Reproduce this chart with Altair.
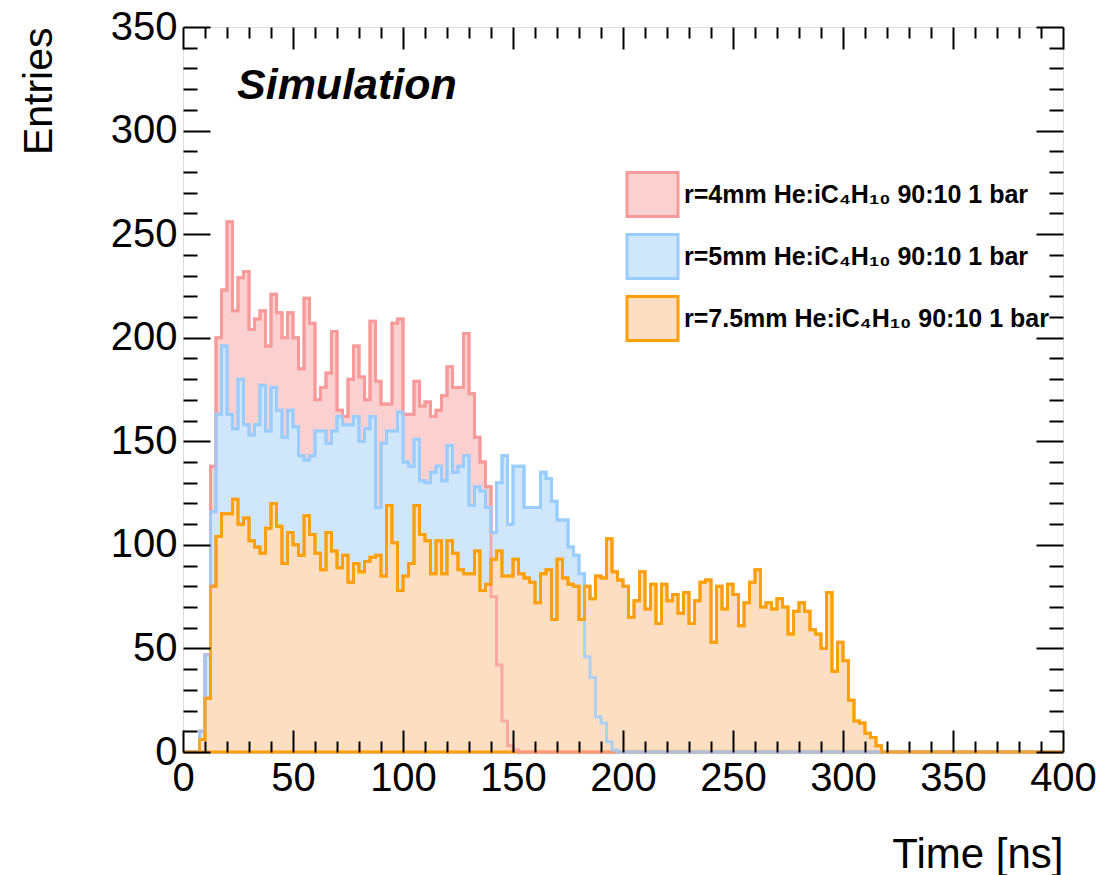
import altair as alt
import pandas as pd

# ---------------- data ----------------
series_labels = [
    "r=4mm He:iC\u2084H\u2081\u2080 90:10 1 bar",
    "r=5mm He:iC\u2084H\u2081\u2080 90:10 1 bar",
    "r=7.5mm He:iC\u2084H\u2081\u2080 90:10 1 bar",
]
bin_width_ns = 2.5
n_bins = 160
first_filled_bin_ns = 7.5

counts_r4 = [10, 47, 138, 200, 223, 256, 213, 229, 232, 204, 209, 213, 196, 221, 212, 200,
             212, 200, 185, 219, 207, 170, 176, 183, 203, 165, 162, 180, 196, 181, 170, 208,
             179, 168, 168, 207, 209, 163, 163, 179, 167, 169, 162, 165, 172, 186, 176, 176,
             202, 173, 152, 140, 128, 75, 42, 15, 3, 1]
counts_r5 = [10, 47, 116, 163, 196, 163, 156, 180, 158, 153, 158, 177, 155, 176, 165, 152,
             165, 157, 143, 141, 143, 155, 155, 149, 155, 162, 158, 158, 162, 150, 156, 162,
             118, 149, 155, 155, 164, 140, 138, 151, 131, 130, 135, 138, 131, 148, 135, 138,
             143, 119, 128, 126, 118, 106, 130, 143, 110, 138, 138, 118, 118, 118, 135, 132,
             121, 112, 112, 99, 95, 86, 46, 36, 17, 14, 5, 1]
counts_r75 = [6, 26, 80, 104, 115, 115, 122, 110, 113, 102, 99, 96, 108, 120, 109, 91,
              106, 100, 95, 114, 105, 96, 88, 106, 97, 89, 95, 82, 91, 87, 92, 94,
              95, 85, 119, 101, 78, 85, 91, 119, 105, 102, 86, 102, 86, 102, 96, 88,
              86, 86, 97, 78, 81, 93, 97, 85, 85, 93, 86, 84, 82, 72, 86, 88,
              64, 93, 84, 81, 80, 64, 80, 74, 85, 84, 103, 87, 83, 80, 65, 73,
              87, 69, 81, 62, 81, 73, 76, 67, 77, 62, 73, 82, 83, 53, 80, 69,
              81, 76, 61, 72, 82, 88, 70, 72, 69, 74, 70, 57, 68, 72, 68, 59,
              57, 50, 77, 39, 53, 44, 25, 15, 14, 9, 7, 3]

fill_colors = ["#FBD0D0", "#D0E6FB", "#FCDEC2"]
line_colors = ["#F99A9A", "#99CCFF", "#FF9F0A"]

y_major = [0, 50, 100, 150, 200, 250, 300, 350]
y_minor = [v for v in range(0, 351, 10) if v % 50 != 0]
x_major = [0, 50, 100, 150, 200, 250, 300, 350, 400]
x_minor = [v for v in range(0, 401, 10) if v % 50 != 0]

# ---------------- table ----------------
rows = []
k0 = int(first_filled_bin_ns / bin_width_ns)
for label, counts in zip(series_labels, [counts_r4, counts_r5, counts_r75]):
    full = [0] * n_bins
    for i, c in enumerate(counts):
        full[k0 + i] = c
    for i in range(n_bins):
        rows.append({"series": label, "t": i * bin_width_ns, "n": full[i]})
    rows.append({"series": label, "t": n_bins * bin_width_ns, "n": 0})
df = pd.DataFrame(rows)
frame_df = pd.DataFrame({"t": [0, 400], "n": [0, 350]})

W, H = 880, 725
FONT = "Liberation Sans"
xs = alt.Scale(domain=[0, 400], nice=False, zero=False)
ys = alt.Scale(domain=[0, 350], nice=False, zero=False)
fill_scale = alt.Scale(domain=series_labels, range=fill_colors)
stroke_scale = alt.Scale(domain=series_labels, range=line_colors)

legend = alt.Legend(
    title="", orient="none", legendX=446, legendY=144,
    symbolType="M -1.16 -1 L 1.16 -1 L 1.16 1 L -1.16 1 Z", symbolSize=1936,
    symbolStrokeWidth=3, labelFont=FONT, labelFontSize=25, labelFontWeight="bold",
    labelColor="black", rowPadding=5, labelOffset=8, labelLimit=700,
)


def area_layer(label):
    return alt.Chart(df).transform_filter(alt.datum.series == label).mark_area(
        interpolate="step-after", strokeWidth=3, strokeJoin="miter"
    ).encode(
        x=alt.X("t:Q", scale=xs, axis=None),
        y=alt.Y("n:Q", scale=ys, axis=None),
        fill=alt.Fill("series:N", scale=fill_scale, legend=legend),
        stroke=alt.Stroke("series:N", scale=stroke_scale, legend=legend),
    )


def line_layer(label):
    return alt.Chart(df).transform_filter(alt.datum.series == label).mark_line(
        interpolate="step-after", strokeWidth=3, strokeJoin="miter", opacity=0.8
    ).encode(
        x=alt.X("t:Q", scale=xs, axis=None),
        y=alt.Y("n:Q", scale=ys, axis=None),
        stroke=alt.Stroke("series:N", scale=stroke_scale, legend=legend),
    )


def axis_layer(xaxis, yaxis):
    return alt.Chart(frame_df).mark_point(opacity=0).encode(
        x=alt.X("t:Q", scale=xs, axis=xaxis),
        y=alt.Y("n:Q", scale=ys, axis=yaxis),
    )


tick_common = dict(labels=False, domain=False, grid=False, title="", tickColor="black",
                   tickWidth=2, zindex=2)

labels_layer = axis_layer(
    alt.Axis(values=x_major, ticks=False, domain=False, grid=False, labelFont=FONT,
             labelFontSize=40, labelColor="black", labelPadding=6, labelFlush=False,
             title="Time [ns]", titleFont=FONT, titleFontSize=42, titleFontWeight="normal",
             titleColor="black", titleAnchor="end", titlePadding=36),
    alt.Axis(values=y_major, ticks=False, domain=False, grid=False, labelFont=FONT,
             labelFontSize=40, labelColor="black", labelPadding=6, labelFlush=False,
             title="Entries", titleFont=FONT, titleFontSize=41, titleFontWeight="normal",
             titleColor="black", titleAnchor="end", titleAngle=270, titlePadding=50),
)
ticks_a = axis_layer(
    alt.Axis(orient="top", offset=-H, values=x_major, tickSize=22, **tick_common),
    alt.Axis(orient="right", offset=-W, values=y_major, tickSize=27, **tick_common),
)
ticks_b = axis_layer(
    alt.Axis(orient="top", offset=-H, values=x_minor, tickSize=11, **tick_common),
    alt.Axis(orient="right", offset=-W, values=y_minor, tickSize=14, **tick_common),
)
ticks_c = axis_layer(
    alt.Axis(orient="bottom", offset=-H, values=x_major, tickSize=22, **tick_common),
    alt.Axis(orient="left", offset=-W, values=y_major, tickSize=27, **tick_common),
)
ticks_d = axis_layer(
    alt.Axis(orient="bottom", offset=-H, values=x_minor, tickSize=11, **tick_common),
    alt.Axis(orient="left", offset=-W, values=y_minor, tickSize=14, **tick_common),
)

sim_text = alt.Chart(pd.DataFrame({"label": ["Simulation"]})).mark_text(
    font=FONT, fontSize=43, fontWeight="bold", fontStyle="italic", align="left",
    baseline="alphabetic", color="black"
).encode(x=alt.value(54), y=alt.value(72), text="label:N")

chart = alt.layer(
    area_layer(series_labels[0]),
    area_layer(series_labels[1]),
    area_layer(series_labels[2]),
    line_layer(series_labels[0]),
    line_layer(series_labels[1]),
    line_layer(series_labels[2]),
    labels_layer, ticks_a, ticks_b, ticks_c, ticks_d,
    sim_text,
).resolve_axis(x="independent", y="independent").properties(
    width=W, height=H,
    autosize=alt.AutoSizeParams(type="none"),
    padding={"left": 183, "top": 27, "right": 57, "bottom": 123},
).configure_view(stroke="black", strokeWidth=2).configure(background="white")

chart.save("out.html", embed_options={"renderer": "svg", "actions": False})
